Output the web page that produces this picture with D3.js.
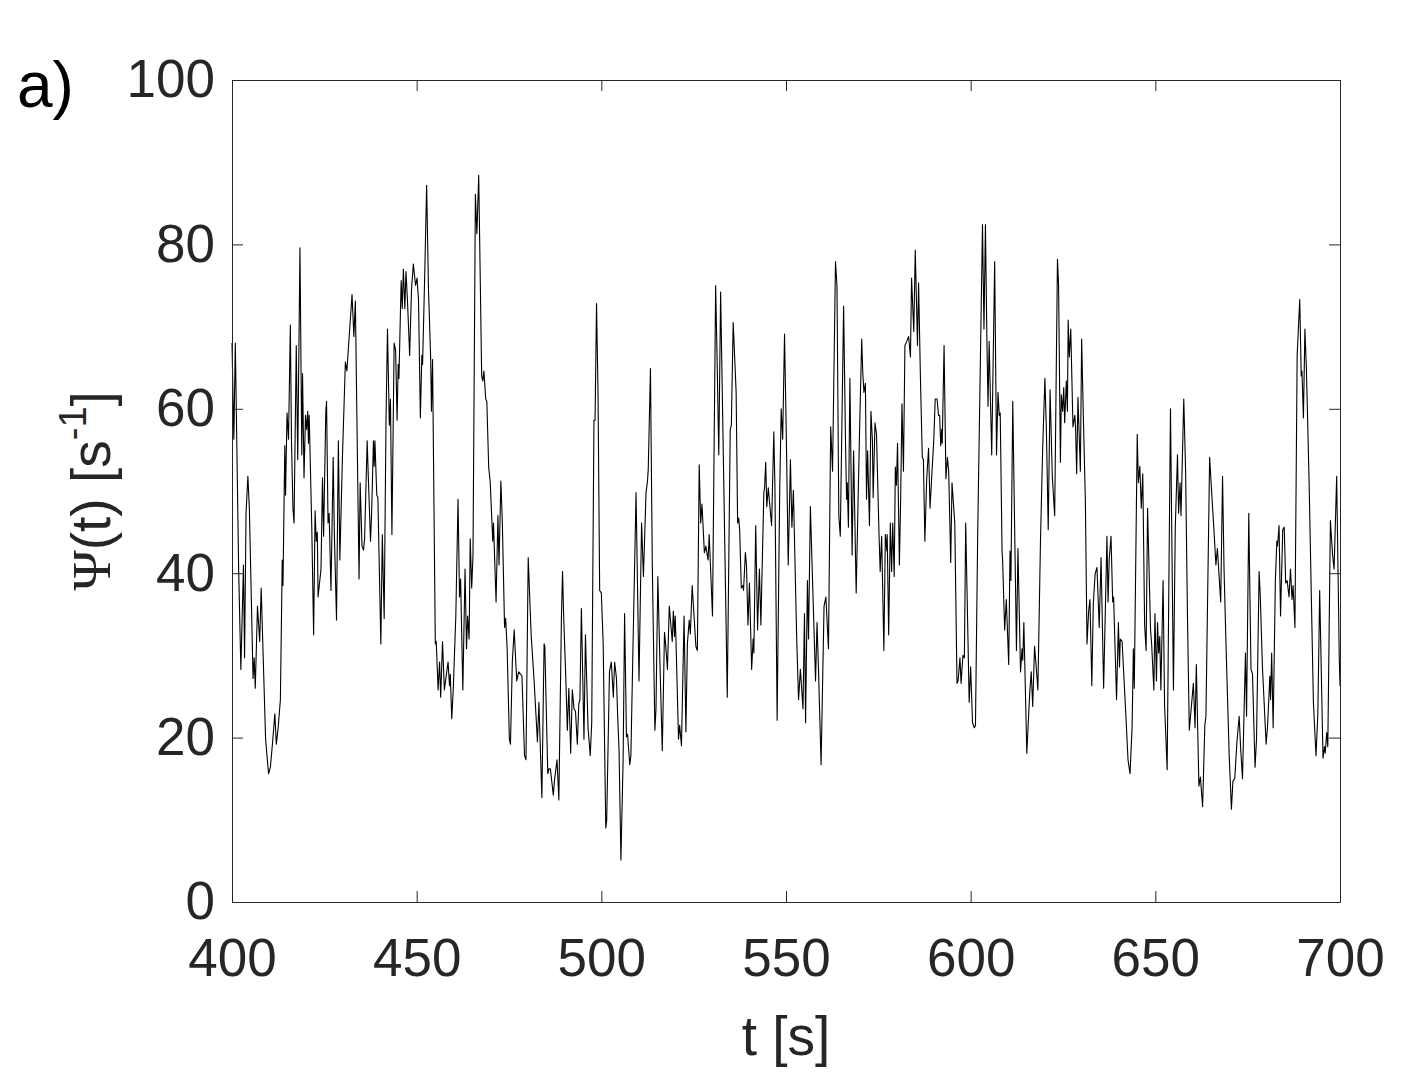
<!DOCTYPE html>
<html>
<head>
<meta charset="utf-8">
<script src="https://cdn.jsdelivr.net/npm/d3@7"></script>
<style>
  body { margin: 0; background: #fff; }
  svg { display: block; }
</style>
</head>
<body>
<div class="container"></div>
<script>
// time stamps [s] and Psi(t) [1/s]
var tSec = [
  400.0,400.5,400.9,401.8,402.4,403.1,403.4,403.8,404.3,404.7,405.7,406.0,406.3,406.9,407.5,407.9,409.1,409.9,410.4,411.0,
  411.6,412.0,412.5,413.1,413.6,413.8,414.3,414.5,414.9,415.3,415.8,416.1,416.5,416.8,417.4,417.8,418.4,418.9,419.1,419.5,
  419.9,420.2,420.5,420.7,420.9,421.6,422.1,422.5,422.8,423.1,423.3,423.7,424.1,424.5,424.8,425.4,425.6,426.0,426.3,426.8,
  427.4,427.7,428.3,428.8,429.2,429.9,430.7,431.1,432.5,433.0,433.4,434.4,434.7,435.2,435.6,435.9,436.6,436.9,437.5,437.8,
  438.3,438.5,438.7,439.2,439.5,440.3,440.7,441.2,441.7,442.1,442.6,442.9,443.3,443.9,444.3,444.7,445.0,445.2,445.8,446.1,
  446.4,446.8,447.1,447.5,448.1,448.6,449.1,449.7,450.1,450.5,451.0,451.4,451.6,452.2,452.7,453.2,453.8,454.0,454.3,455.05,
  455.3,455.8,456.2,456.5,457.0,457.5,458.5,458.9,459.1,459.5,459.9,460.6,461.2,461.6,461.9,462.5,463.1,463.5,463.8,464.2,
  464.5,464.9,465.25,465.9,466.3,466.8,467.6,467.9,468.2,468.7,469.0,469.5,469.9,470.6,470.8,471.5,472.0,472.3,472.8,473.2,
  473.8,474.1,474.5,475.1,475.4,475.9,476.4,477.1,477.6,478.2,478.5,479.2,479.6,480.2,481.0,481.8,482.7,483.1,483.9,484.5,
  484.7,485.5,485.8,486.2,487.0,487.3,488.0,488.5,489.2,489.5,489.8,490.4,490.8,491.2,491.7,492.15,492.6,493.0,493.5,493.9,
  494.2,494.6,495.3,495.7,496.4,497.0,497.4,498.0,498.3,498.7,499.1,499.55,500.0,500.5,501.2,501.45,502.2,502.7,503.25,503.6,
  504.1,504.4,504.8,505.3,505.9,506.3,506.8,507.1,507.7,508.0,508.5,509.4,510.2,510.9,511.4,512.1,512.5,512.7,513.3,513.8,
  514.5,514.8,515.3,515.8,516.5,517.1,517.4,517.9,518.4,519.2,519.5,519.8,520.0,520.2,520.9,521.2,521.7,522.4,522.9,523.3,
  523.8,524.1,524.6,525.1,525.6,526.0,526.5,526.9,527.25,527.9,528.3,528.9,529.2,530.1,530.95,531.3,531.8,532.3,533.1,534.1,
  534.9,535.2,535.7,536.5,536.9,537.2,537.45,537.9,538.3,538.5,539.0,539.3,539.7,540.1,540.7,541.1,541.3,541.8,542.3,542.8,
  543.2,544.0,544.2,544.5,544.8,545.2,545.8,546.1,546.7,547.0,547.6,548.3,548.7,549.1,549.6,550.1,550.6,551.2,551.6,552.0,
  552.9,553.4,553.9,554.6,555.0,555.3,555.8,556.1,556.6,557.5,558.0,558.4,558.8,559.5,560.3,560.8,561.5,562.1,562.6,563.4,
  563.8,564.3,564.7,565.6,566.1,566.4,566.6,566.9,567.3,567.9,568.3,569.0,569.5,569.9,570.5,570.8,571.1,571.5,571.8,572.1,
  572.6,573.0,573.4,573.6,574.1,574.5,575.2,575.5,575.9,576.5,576.9,577.3,577.4,577.8,578.25,578.6,578.9,579.3,579.6,579.9,
  580.2,580.7,581.05,581.4,581.8,582.2,582.7,583.2,583.7,584.0,584.6,585.0,585.6,585.9,586.4,586.9,587.2,587.6,588.1,588.6,
  589.0,589.5,590.0,590.4,590.9,591.3,591.6,591.9,592.15,592.3,592.8,593.3,593.7,594.05,594.6,594.95,595.7,596.3,596.6,597.1,
  597.4,597.9,598.3,598.65,599.0,599.6,600.0,600.5,601.0,601.3,601.9,603.2,603.6,604.0,604.4,604.7,605.0,605.7,606.5,607.0,
  607.4,607.75,608.0,608.5,608.65,609.2,609.65,610.3,610.65,610.9,611.4,612.4,612.8,613.5,613.9,614.1,614.4,615.2,616.0,616.4,
  616.8,617.3,617.7,618.2,618.9,619.5,620.1,620.5,621.0,621.5,622.1,622.75,623.5,623.8,624.3,624.55,624.9,625.2,625.45,625.9,
  626.2,626.4,626.7,627.1,627.7,628.2,628.4,628.7,629.05,629.7,630.05,630.5,631.05,631.5,631.95,632.3,632.8,633.2,633.7,634.2,
  634.8,635.3,636.0,636.9,637.2,637.5,638.0,638.45,638.7,639.5,640.0,640.3,640.5,641.0,642.0,642.6,643.15,643.7,644.05,644.3,
  645.1,645.4,645.8,646.2,646.6,647.1,647.5,647.9,648.7,649.0,649.6,649.9,650.3,650.6,650.9,651.2,651.5,652.1,652.5,653.2,
  654.1,654.9,655.4,656.0,656.3,656.7,656.95,657.7,658.2,658.7,659.2,659.7,660.3,660.75,661.1,661.8,662.2,662.8,663.4,663.7,
  664.7,665.3,665.9,666.4,666.8,667.7,668.2,668.6,669.2,670.0,670.6,671.0,671.5,672.1,672.7,673.1,673.6,674.0,674.4,674.7,
  675.3,675.9,676.3,677.0,677.4,678.1,678.4,679.0,680.0,680.4,681.0,681.2,681.5,681.9,682.5,682.9,683.1,683.5,683.9,684.5,
  684.9,685.3,685.7,686.2,686.6,687.0,687.3,687.8,688.4,689.1,689.5,689.7,690.1,690.5,690.9,691.6,692.8,693.5,694.0,694.5,
  695.4,695.8,696.0,696.4,696.7,697.4,698.0,698.4,699.1,699.8,700.0
];

var psi = [
  68.0,56.3,68.0,40.5,28.3,41.0,29.7,47.3,51.8,47.9,27.2,29.7,26.0,36.0,31.7,38.2,19.8,15.6,16.4,19.5,
  22.9,19.2,21.2,24.6,41.6,38.5,55.5,49.5,59.5,56.3,70.2,56.3,47.9,46.1,67.7,53.8,79.6,54.4,64.3,51.6,
  59.2,57.5,59.7,55.8,59.2,45.6,32.5,47.6,43.9,45.0,37.1,38.8,40.5,51.6,44.5,59.7,60.9,46.1,47.3,37.9,
  54.1,45.0,34.3,56.1,41.6,54.1,65.7,64.6,73.9,68.8,73.1,39.3,51.0,43.3,42.8,44.2,56.1,51.8,43.9,47.3,
  56.1,53.0,56.1,49.5,49.2,31.4,44.7,34.5,58.6,69.7,58.0,61.2,44.7,68.0,67.1,58.6,65.4,63.7,75.6,72.2,
  77.0,72.2,76.7,73.3,66.5,74.5,77.6,75.0,75.9,73.3,58.9,66.5,65.4,76.7,87.2,74.5,66.0,59.7,66.0,31.4,
  31.7,25.8,29.2,24.9,31.7,25.8,29.2,26.3,27.7,22.3,25.8,34.8,49.0,37.1,39.3,25.8,40.5,30.8,34.8,32.0,
  44.2,38.2,42.2,86.1,81.3,88.4,64.0,63.4,64.6,61.2,60.9,52.9,51.2,43.9,46.1,36.5,47.0,41.0,51.2,46.1,
  33.4,34.5,30.8,19.8,19.2,29.2,33.1,26.9,28.0,27.7,27.5,17.8,17.3,41.9,32.5,26.9,19.5,24.3,12.7,31.4,
  31.1,15.6,16.2,16.2,13.0,14.7,17.3,12.4,34.8,40.2,34.8,26.9,20.9,26.0,18.1,25.8,23.5,23.2,19.2,24.1,
  24.6,35.7,19.8,32.5,21.2,17.8,21.8,58.6,58.6,72.8,62.0,37.9,37.6,31.4,9.0,9.9,28.0,29.2,24.9,29.2,
  27.2,22.9,18.4,5.1,17.3,35.1,20.1,20.4,16.7,17.8,29.4,49.8,26.9,46.1,39.6,49.8,51.2,52.6,64.9,41.0,
  20.9,23.5,39.6,30.3,18.4,32.8,31.4,28.3,36.0,31.7,35.4,32.3,34.8,32.0,19.8,21.5,19.0,34.8,20.7,31.4,
  34.3,32.6,38.5,34.8,31.1,30.6,53.2,46.1,48.4,42.5,43.3,41.6,44.7,34.8,75.0,67.1,54.4,74.2,52.4,24.9,
  57.5,58.0,70.5,62.0,46.1,46.7,45.3,38.2,38.5,37.9,42.5,41.0,33.7,38.8,28.3,32.0,30.3,45.8,33.1,40.5,
  33.7,49.8,50.4,53.5,48.1,50.4,47.3,45.8,57.2,50.7,22.1,50.1,60.0,56.3,69.1,56.3,41.0,53.8,45.6,50.1,
  32.0,24.6,28.3,23.5,35.1,21.8,39.1,32.0,48.1,34.3,26.9,34.0,28.3,16.7,36.0,37.1,30.8,57.8,52.4,77.9,
  75.0,47.0,44.5,72.5,56.3,49.0,51.0,45.6,63.7,42.2,54.9,37.6,48.4,56.9,68.5,64.3,62.0,63.1,49.0,54.9,
  45.8,59.7,56.1,49.2,58.3,56.9,44.5,40.2,44.5,30.6,44.7,42.7,44.7,32.5,46.1,40.2,46.1,39.6,52.9,50.7,
  55.8,41.0,49.2,60.6,52.4,67.7,68.2,68.8,66.3,75.9,69.4,79.3,67.7,75.3,63.7,54.1,53.8,43.9,51.5,55.2,
  47.9,52.1,56.1,61.2,61.2,59.2,59.2,55.5,57.5,55.8,67.7,51.5,54.1,52.4,41.3,51.0,46.1,26.6,26.9,29.7,
  26.6,30.0,29.7,46.1,38.2,24.3,28.6,21.8,21.2,21.5,44.7,82.4,69.7,82.4,68.2,60.3,68.2,54.4,77.9,54.4,
  62.0,59.2,59.5,42.7,41.6,33.1,36.8,28.9,42.7,39.1,60.9,30.6,43.0,28.0,30.8,29.4,34.0,18.1,25.5,28.0,
  23.8,31.1,28.9,25.8,43.9,55.2,63.7,57.5,45.3,62.3,51.8,47.0,78.2,75.0,53.5,61.7,59.7,62.6,58.3,63.4,
  59.7,70.8,66.3,69.7,57.8,59.2,57.8,52.1,61.4,52.4,68.5,59.2,49.0,31.4,35.4,36.8,26.3,36.2,39.9,40.7,
  33.4,41.9,26.0,44.5,36.5,41.6,44.5,36.5,37.1,24.6,34.0,28.6,32.0,31.7,22.9,17.3,15.6,21.2,30.8,26.0,
  56.9,51.0,53.0,47.9,52.1,33.7,30.6,47.9,33.1,31.4,25.8,35.1,26.9,34.0,30.3,32.3,25.8,39.1,24.0,16.1,
  60.0,25.8,45.6,54.4,47.3,51.0,47.0,61.2,52.4,34.8,20.9,23.5,26.6,21.2,28.9,14.1,15.2,11.6,21.5,22.6,
  54.1,49.5,45.0,41.0,43.0,36.5,51.8,40.5,30.3,17.8,11.3,14.7,15.0,19.5,22.6,18.7,15.0,22.6,30.3,22.6,
  47.3,28.3,27.8,16.4,19.8,40.2,37.4,28.6,19.2,21.5,27.5,24.6,30.3,21.2,39.1,43.9,43.3,45.8,34.8,45.3,
  45.6,38.8,39.1,37.1,40.5,36.8,38.5,33.4,66.5,73.3,64.0,64.6,58.9,69.7,64.9,51.8,24.3,17.8,22.9,37.9,
  17.5,18.9,18.1,20.6,18.9,46.4,42.2,40.5,51.8,29.7,26.3
];

var xTicks = [400, 450, 500, 550, 600, 650, 700];
var yTicks = [0, 20, 40, 60, 80, 100];

var W = 1405, H = 1086;
var plot = { left: 232, right: 1340, top: 80, bottom: 902 };
var axisColor = '#262626';
var tickFont = 53;

var svg = d3.select('.container').append('svg')
  .attr('width', W)
  .attr('height', H)
  .style('font-family', '"Liberation Sans", Arial, sans-serif');

var x = d3.scaleLinear().domain([400, 700]).range([plot.left, plot.right]);
var y = d3.scaleLinear().domain([0, 100]).range([plot.bottom, plot.top]);

var data = tSec.map(function(t, i) { return { t: t, v: psi[i] }; });

// the trace
var line = d3.line()
  .x(function(d) { return x(d.t); })
  .y(function(d) { return y(d.v); });

svg.append('path')
  .datum(data)
  .attr('d', line)
  .attr('fill', 'none')
  .attr('stroke', '#000')
  .attr('stroke-width', 1.1)
  .attr('stroke-linejoin', 'round');

// box axes, ticks pointing inward on all four sides
var styleAxis = function(g, showText) {
  g.select('.domain').attr('stroke', axisColor).attr('stroke-width', 1);
  g.selectAll('.tick line').attr('stroke', axisColor).attr('stroke-width', 1);
  g.selectAll('.tick text')
    .attr('fill', axisColor)
    .style('font-size', tickFont + 'px')
    .style('display', showText ? null : 'none');
  g.attr('font-family', null).attr('font-size', null);
};

svg.append('g')
  .attr('transform', 'translate(0,' + plot.bottom + ')')
  .call(d3.axisBottom(x).tickValues(xTicks).tickSize(-11).tickSizeOuter(0).tickPadding(36))
  .call(styleAxis, true);

svg.append('g')
  .attr('transform', 'translate(0,' + plot.top + ')')
  .call(d3.axisTop(x).tickValues(xTicks).tickSize(-11).tickSizeOuter(0))
  .call(styleAxis, false);

svg.append('g')
  .attr('transform', 'translate(' + plot.left + ',0)')
  .call(d3.axisLeft(y).tickValues(yTicks).tickSize(-11).tickSizeOuter(0).tickPadding(17))
  .call(styleAxis, true);

svg.append('g')
  .attr('transform', 'translate(' + plot.right + ',0)')
  .call(d3.axisRight(y).tickValues(yTicks).tickSize(-11).tickSizeOuter(0))
  .call(styleAxis, false);

// axis labels
svg.append('text')
  .attr('x', (plot.left + plot.right) / 2)
  .attr('y', 1055)
  .attr('text-anchor', 'middle')
  .attr('fill', axisColor)
  .style('font-size', '55px')
  .text('t [s]');

var yLab = svg.append('text')
  .attr('transform', 'translate(110,' + ((plot.top + plot.bottom) / 2) + ') rotate(-90)')
  .attr('text-anchor', 'middle')
  .attr('fill', axisColor)
  .style('font-size', '55px');
yLab.append('tspan').style('font-family', '"Liberation Serif", "DejaVu Serif", serif').text('\u03A8');
yLab.append('tspan').text('(t) [s');
yLab.append('tspan').attr('dy', -24).style('font-size', '38px').text('-1');
yLab.append('tspan').attr('dy', 24).text(']');

// panel letter
svg.append('text')
  .attr('x', 17)
  .attr('y', 107)
  .attr('fill', '#000')
  .style('font-size', '64px')
  .text('a)');
</script>
</body>
</html>
